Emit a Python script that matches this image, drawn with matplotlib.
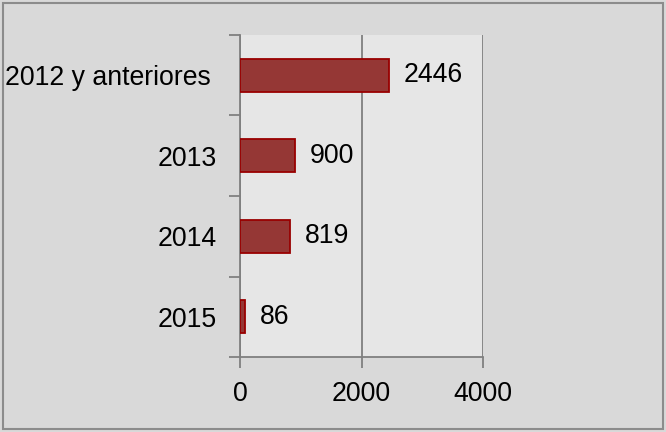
import matplotlib
matplotlib.use("Agg")
import matplotlib.pyplot as plt
import matplotlib.transforms as mtransforms
from matplotlib.patches import Rectangle

# datos
categorias = ["2012 y anteriores", "2013", "2014", "2015"]
valores = [2446, 900, 819, 86]
xticks = [0, 2000, 4000]

plt.rcParams['font.family'] = ['Liberation Sans', 'DejaVu Sans']
fs = 19.2

fig = plt.figure(figsize=(6.66, 4.32), dpi=100)
fig.patch.set_facecolor('#d9d9d9')
fig.patches.append(Rectangle((0.004, 0.006), 0.992, 0.988, transform=fig.transFigure,
                             fill=False, edgecolor='#8c8c8c', linewidth=1.5))

ax = fig.add_axes([0.3604, 0.1736, 0.3650, 0.7454])
ax.set_facecolor('#e6e6e6')

pos = list(range(len(categorias)))[::-1]
ax.barh(pos, valores, height=0.41, color='#953735', edgecolor='#990000', linewidth=1.3, zorder=3)
for p, v in zip(pos, valores):
    ax.annotate(str(v), (v, p), xytext=(10.5, 0), textcoords='offset points',
                va='center', ha='left', fontsize=fs, zorder=4)

ax.set_xlim(0, 4000)
ax.set_ylim(-0.5, len(categorias) - 0.5)
ax.set_xticks(xticks)
ax.set_xticklabels([str(t) for t in xticks], fontsize=fs)
ax.set_yticks(pos)
ax.set_yticklabels(categorias, fontsize=fs)
ax.set_yticks([i - 0.5 for i in range(len(categorias) + 1)], minor=True)

ax.tick_params(axis='y', which='major', length=0, pad=17)
ax.tick_params(axis='y', which='minor', length=8, color='#808080', width=1.3)
ax.tick_params(axis='x', length=8, color='#808080', width=1.3, pad=9, direction='out')

# la etiqueta larga queda un poco mas a la izquierda (como en Excel)
lbl = ax.get_yticklabels()[0]
lbl.set_transform(lbl.get_transform() + mtransforms.ScaledTranslation(-6 / 100, 0, fig.dpi_scale_trans))

ax.xaxis.grid(True, color='#808080', linewidth=1.3, zorder=1)
ax.set_axisbelow(True)
for s in ['top', 'right']:
    ax.spines[s].set_visible(False)
for s in ['left', 'bottom']:
    ax.spines[s].set_color('#808080')
    ax.spines[s].set_linewidth(1.3)

fig.savefig("out.png", dpi=100, facecolor=fig.get_facecolor())
